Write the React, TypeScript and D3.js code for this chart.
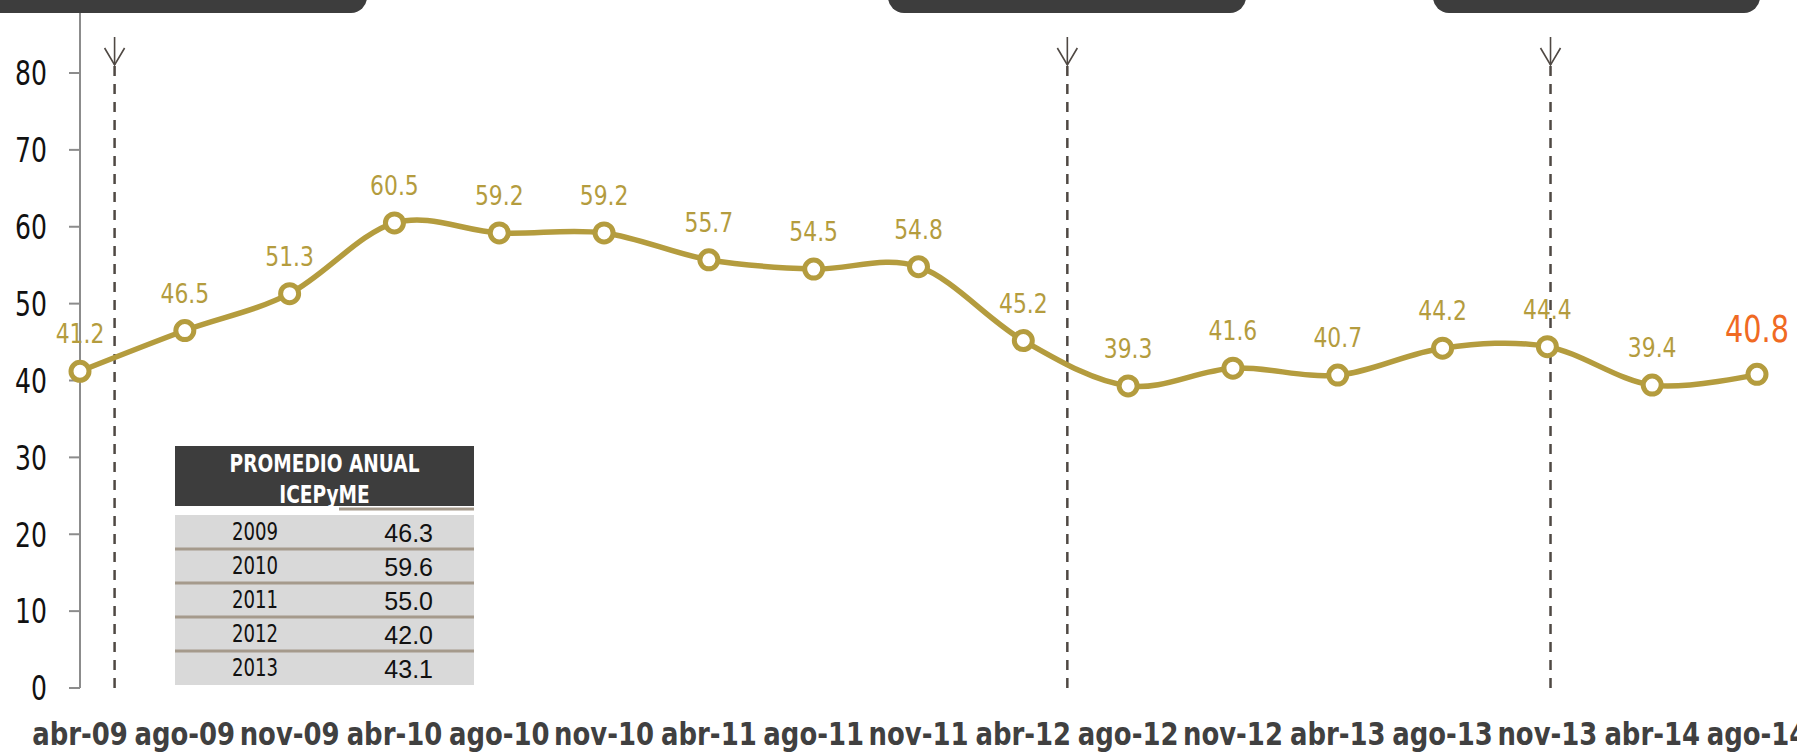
import React, { useRef, useEffect } from 'react';
import { select, scalePoint, scaleLinear, line, curveCardinal, range } from 'd3';

const months = ['abr-09', 'ago-09', 'nov-09', 'abr-10', 'ago-10', 'nov-10', 'abr-11', 'ago-11', 'nov-11',
  'abr-12', 'ago-12', 'nov-12', 'abr-13', 'ago-13', 'nov-13', 'abr-14', 'ago-14'];
const icepyme = [41.2, 46.5, 51.3, 60.5, 59.2, 59.2, 55.7, 54.5, 54.8, 45.2, 39.3, 41.6, 40.7, 44.2, 44.4, 39.4, 40.8];
const yTicks = [0, 10, 20, 30, 40, 50, 60, 70, 80];
// event markers, in category units (fractional index along the x axis)
const eventIndex = [0.33, 9.42, 14.03];
const tableYears = ['2009', '2010', '2011', '2012', '2013'];
const tableValues = ['46.3', '59.6', '55.0', '42.0', '43.1'];

const W = 1797;
const H = 756;
const GOLD = '#b49c3e';
const ORANGE = '#f06a23';
const DARK = '#3d3d3d';
const NARROW = '"Liberation Sans Narrow", "Arial Narrow", "DejaVu Sans Condensed", sans-serif';

const App: React.FC = () => {
  const svgRef = useRef<SVGSVGElement | null>(null);

  useEffect(() => {
    if (!svgRef.current) return;
    const svg = select(svgRef.current);
    svg.selectAll('*').remove();

    const x = scalePoint<string>().domain(months).range([80, 1757]);
    const y = scaleLinear().domain([0, 80]).range([688, 73]);
    const step = x.step();
    const x0 = x(months[0]) as number;

    // squeeze a condensed face a bit more, anchored at (tx, ty)
    const at = (tx: number, ty: number, sx: number) => `translate(${tx},${ty}) scale(${sx},1)`;

    // banners at top (their text sits above the visible area)
    const banners = [[-30, 367], [888, 1246], [1433, 1760]];
    svg.selectAll('rect.banner').data(banners).enter().append('rect')
      .attr('class', 'banner')
      .attr('x', d => d[0]).attr('y', -40)
      .attr('width', d => d[1] - d[0]).attr('height', 53)
      .attr('rx', 16).attr('fill', DARK);

    // y axis
    svg.append('line').attr('x1', 80).attr('x2', 80).attr('y1', 13).attr('y2', y(0))
      .attr('stroke', '#8c8c8c').attr('stroke-width', 2);
    const yt = svg.append('g');
    yt.selectAll('line').data(yTicks).enter().append('line')
      .attr('x1', 69).attr('x2', 80).attr('y1', d => y(d)).attr('y2', d => y(d))
      .attr('stroke', '#8c8c8c').attr('stroke-width', 2);
    yt.selectAll('text').data(yTicks).enter().append('text')
      .attr('transform', d => at(47, y(d), 0.82)).attr('dy', '0.36em')
      .attr('text-anchor', 'end').attr('font-family', NARROW).attr('font-size', 34)
      .attr('fill', '#111').text(d => d);

    // event dashed lines with arrows
    const ev = svg.append('g');
    eventIndex.forEach(i => {
      const ex = x0 + i * step;
      ev.append('line').attr('x1', ex).attr('x2', ex).attr('y1', 66).attr('y2', y(0))
        .attr('stroke', '#4f4843').attr('stroke-width', 2.5).attr('stroke-dasharray', '10,8');
      ev.append('line').attr('x1', ex).attr('x2', ex).attr('y1', 37).attr('y2', 65)
        .attr('stroke', '#4f4843').attr('stroke-width', 1.6);
      ev.append('path').attr('d', `M${ex - 10},48 L${ex},65 L${ex + 10},48`)
        .attr('fill', 'none').attr('stroke', '#4f4843').attr('stroke-width', 1.6);
    });

    // annual average table
    const tx = 175, tw = 299, split = 339;
    const tbl = svg.append('g');
    tbl.append('rect').attr('x', tx).attr('y', 446).attr('width', tw).attr('height', 60).attr('fill', DARK);
    tbl.append('text').attr('transform', at(tx + tw / 2, 472, 0.86)).attr('text-anchor', 'middle')
      .attr('font-family', NARROW).attr('font-weight', 'bold').attr('font-size', 24).attr('fill', '#fff')
      .text('PROMEDIO ANUAL');
    tbl.append('text').attr('transform', at(tx + tw / 2, 503, 0.86)).attr('text-anchor', 'middle')
      .attr('font-family', NARROW).attr('font-weight', 'bold').attr('font-size', 24).attr('fill', '#fff')
      .text('ICEPyME');
    tbl.append('rect').attr('x', tx).attr('y', 506).attr('width', tw).attr('height', 9).attr('fill', '#fff');
    tbl.append('line').attr('x1', split).attr('x2', tx + tw).attr('y1', 509).attr('y2', 509)
      .attr('stroke', '#a59a8c').attr('stroke-width', 3);
    const rowH = 34;
    const rowY = range(tableYears.length).map(i => 515 + i * rowH);
    tbl.append('rect').attr('x', tx).attr('y', 515).attr('width', tw).attr('height', rowH * tableYears.length)
      .attr('fill', '#d9d9d9');
    tbl.selectAll('line.sep').data(rowY.slice(1)).enter().append('line')
      .attr('class', 'sep').attr('x1', tx).attr('x2', tx + tw).attr('y1', d => d).attr('y2', d => d)
      .attr('stroke', '#a59a8c').attr('stroke-width', 3);
    tbl.selectAll('text.yr').data(tableYears).enter().append('text')
      .attr('class', 'yr').attr('transform', (_, i) => at(255, rowY[i] + 25, 0.84)).attr('text-anchor', 'middle')
      .attr('font-family', NARROW).attr('font-size', 24).attr('fill', '#111').text(d => d);
    tbl.selectAll('text.val').data(tableValues).enter().append('text')
      .attr('class', 'val').attr('x', 433).attr('y', (_, i) => rowY[i] + 27).attr('text-anchor', 'end')
      .attr('font-family', '"Liberation Sans", Arial, sans-serif').attr('font-size', 25).attr('fill', '#111').text(d => d);

    // the series
    const pts = months.map((m, i) => ({ m, v: icepyme[i] }));
    const path = line<{ m: string; v: number }>()
      .x(d => x(d.m) as number).y(d => y(d.v)).curve(curveCardinal.tension(0));
    svg.append('path').attr('d', path(pts) as string).attr('fill', 'none')
      .attr('stroke', GOLD).attr('stroke-width', 5.5);
    svg.selectAll('circle.pt').data(pts).enter().append('circle')
      .attr('class', 'pt').attr('cx', d => x(d.m) as number).attr('cy', d => y(d.v)).attr('r', 9)
      .attr('fill', '#fff').attr('stroke', GOLD).attr('stroke-width', 5);
    const last = pts.length - 1;
    svg.selectAll('text.lbl').data(pts).enter().append('text')
      .attr('class', 'lbl')
      .attr('transform', (d, i) => at(x(d.m) as number, y(d.v) - (i === last ? 32 : 28), i === last ? 0.84 : 0.9))
      .attr('text-anchor', 'middle')
      .attr('font-family', NARROW).attr('font-size', (_, i) => (i === last ? 38 : 27))
      .attr('fill', (_, i) => (i === last ? ORANGE : GOLD)).text(d => d.v.toFixed(1));

    // x labels
    svg.selectAll('text.xl').data(months).enter().append('text')
      .attr('class', 'xl').attr('transform', d => at(x(d) as number, 745, 0.9)).attr('text-anchor', 'middle')
      .attr('font-family', NARROW).attr('font-weight', 'bold').attr('font-size', 32)
      .attr('fill', '#404040').text(d => d);
  }, []);

  return (
    <div style={{ position: 'absolute', left: 0, top: 0, width: W, height: H, overflow: 'hidden', background: '#fff' }}>
      <svg ref={svgRef} width={W} height={H}></svg>
    </div>
  );
};

export default App;
